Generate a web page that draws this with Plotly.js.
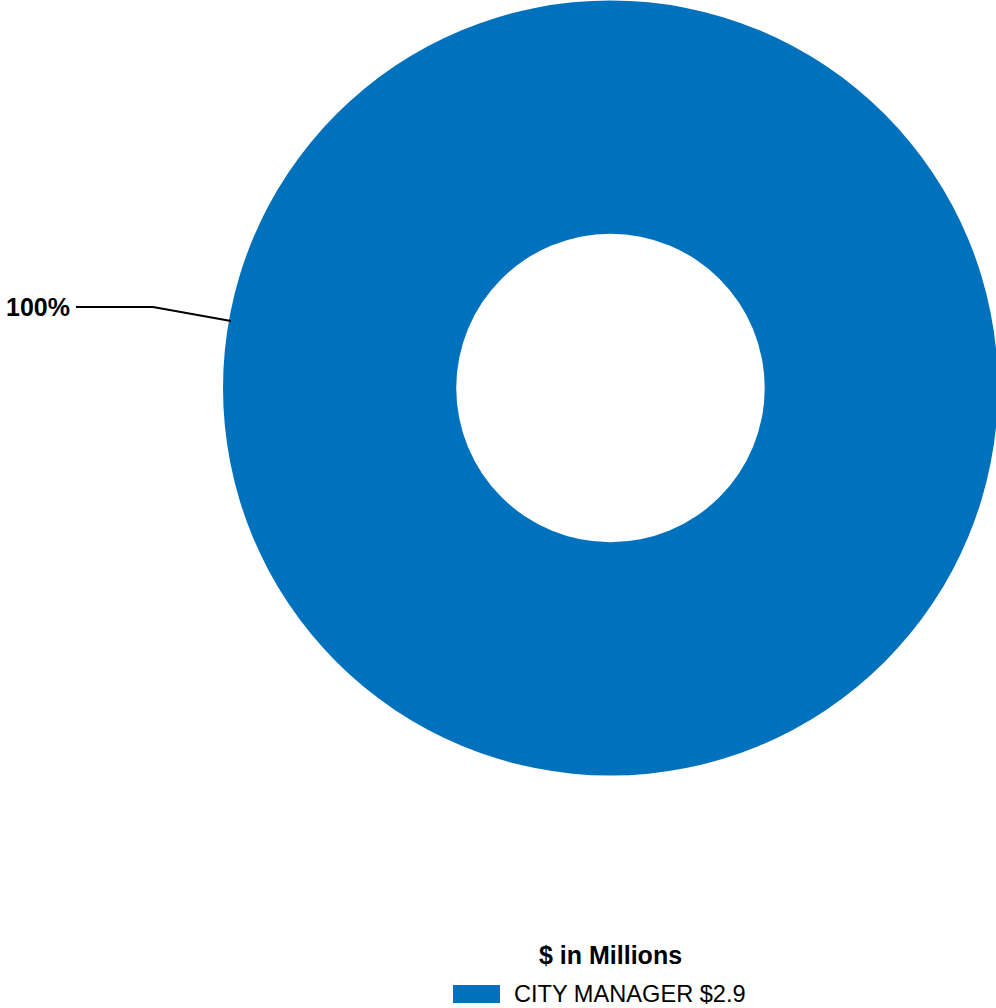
<!DOCTYPE html>
<html>
<head>
<meta charset="utf-8">
<script src="https://cdn.plot.ly/plotly-3.0.1.min.js"></script>
<style>html,body{margin:0;padding:0;background:#fff;overflow:hidden;}#chart{width:1000px;height:1008px;}</style>
</head>
<body>
<div id="chart"></div>
<script>
const categories = ["CITY MANAGER"];
const values = [2.9];
const legendTitle = "$ in Millions";
const colors = ["#0071BC"];

const W = 1000, H = 1008;
const px = x => x / W;
const py = y => 1 - y / H;

const total = values.reduce((a, b) => a + b, 0);
const pctText = Math.round(values[0] / total * 100) + "%";

const trace = {
  type: "pie",
  labels: categories,
  values: values,
  hole: 0.398,
  sort: false,
  direction: "clockwise",
  marker: { colors: colors, line: { width: 0 } },
  textinfo: "none",
  hoverinfo: "label+value+percent",
  domain: { x: [px(223), px(998)], y: [py(776), 1] },
  showlegend: false
};

const font = "Liberation Sans, Arial, sans-serif";

const layout = {
  width: W, height: H,
  margin: { l: 0, r: 0, t: 0, b: 0 },
  paper_bgcolor: "#ffffff",
  showlegend: false,
  shapes: [
    {
      type: "path", xref: "paper", yref: "paper",
      path: `M ${px(76)} ${py(307)} L ${px(153)} ${py(307)} L ${px(231)} ${py(321)}`,
      line: { color: "#000000", width: 2 }
    },
    {
      type: "rect", xref: "paper", yref: "paper",
      x0: px(453), x1: px(500), y0: py(1003), y1: py(985),
      fillcolor: colors[0], line: { width: 0 }
    }
  ],
  annotations: [
    {
      xref: "paper", yref: "paper", x: px(72), y: py(307),
      xanchor: "right", yanchor: "middle", showarrow: false,
      text: "<b>" + pctText + "</b>",
      font: { family: font, size: 25, color: "#000000" }
    },
    {
      xref: "paper", yref: "paper", x: px(610), y: py(955),
      xanchor: "center", yanchor: "middle", showarrow: false,
      text: "<b>" + legendTitle + "</b>",
      font: { family: font, size: 25, color: "#000000" }
    },
    {
      xref: "paper", yref: "paper", x: px(512), y: py(994),
      xanchor: "left", yanchor: "middle", showarrow: false,
      text: categories[0] + " $" + values[0].toFixed(1),
      font: { family: font, size: 23.6, color: "#000000" }
    }
  ]
};

Plotly.newPlot("chart", [trace], layout, { displayModeBar: false, staticPlot: true });
</script>
</body>
</html>
